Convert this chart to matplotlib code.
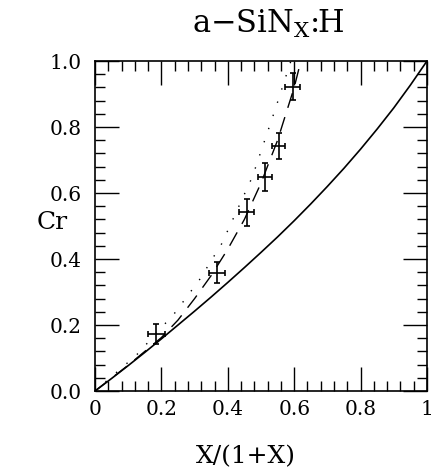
import matplotlib
matplotlib.use("Agg")
import matplotlib.pyplot as plt
from matplotlib.ticker import MultipleLocator

# Data
pts_x = [0.185, 0.367, 0.457, 0.512, 0.553, 0.595]
pts_y = [0.172, 0.358, 0.541, 0.649, 0.742, 0.922]
pts_xerr = [0.025, 0.025, 0.022, 0.022, 0.02, 0.022]
pts_yerr = [0.03, 0.032, 0.041, 0.042, 0.04, 0.041]

solid_x = [0, 0.05, 0.1, 0.15, 0.2, 0.25, 0.3, 0.35, 0.4, 0.45, 0.5,
           0.55, 0.6, 0.65, 0.7, 0.75, 0.8, 0.85, 0.9, 0.95, 1.0]
solid_y = [0, 0.038, 0.077, 0.117, 0.158, 0.200, 0.242, 0.285, 0.329, 0.374, 0.420,
           0.467, 0.516, 0.567, 0.620, 0.675, 0.733, 0.794, 0.858, 0.927, 1.0]

dash_x = [0, 0.1, 0.2, 0.25, 0.3, 0.35, 0.4, 0.45, 0.5, 0.55, 0.6, 0.62]
dash_y = [0, 0.078, 0.162, 0.215, 0.28, 0.35, 0.43, 0.52, 0.63, 0.76, 0.92, 1.0]

dot_x = [0, 0.125, 0.24, 0.314, 0.382, 0.474, 0.544, 0.59]
dot_y = [0, 0.109, 0.236, 0.336, 0.447, 0.649, 0.857, 1.0]

xticks = [0, 0.2, 0.4, 0.6, 0.8, 1.0]
xticklabels = ["0", "0.2", "0.4", "0.6", "0.8", "1"]
yticks = [0.0, 0.2, 0.4, 0.6, 0.8, 1.0]
yticklabels = ["0.0", "0.2", "0.4", "0.6", "0.8", "1.0"]

plt.rcParams['font.family'] = ['DejaVu Serif']
plt.rcParams['mathtext.fontset'] = 'dejavuserif'

fig = plt.figure(figsize=(4.33, 4.69), dpi=100)
ax = fig.add_axes([95/433, 78/469, 332/433, 330/469])

ax.plot(solid_x, solid_y, color='black', lw=1.2)
ax.plot(dash_x, dash_y, color='black', lw=1.0, linestyle=(0, (11, 7)))
ax.plot(dot_x, dot_y, color='black', lw=1.0, linestyle=(0, (1, 9)))
ax.errorbar(pts_x, pts_y, xerr=pts_xerr, yerr=pts_yerr, fmt='none',
            ecolor='black', elinewidth=1.2, capsize=2.5, capthick=1.2)

ax.set_xlim(0, 1)
ax.set_ylim(0, 1)
ax.set_xticks(xticks)
ax.set_xticklabels(xticklabels)
ax.set_yticks(yticks)
ax.set_yticklabels(yticklabels)
ax.xaxis.set_minor_locator(MultipleLocator(0.04))
ax.yaxis.set_minor_locator(MultipleLocator(0.04))
ax.tick_params(which='both', direction='in', top=True, right=True, width=1.0, labelsize=14.5)
ax.tick_params(which='major', length=17)
ax.tick_params(which='minor', length=7)
ax.tick_params(axis='x', pad=6.5)
ax.tick_params(axis='y', pad=9.5)
for s in ax.spines.values():
    s.set_linewidth(1.2)

ax.set_xlabel("X/(1+X)", fontsize=18)
ax.xaxis.set_label_coords(0.455, -0.165)
ax.set_ylabel("Cr", fontsize=18, rotation=0, va='center', ha='center')
ax.yaxis.set_label_coords(-0.13, 0.51)
ax.set_title(r"a$-$SiN$_{\mathrm{X}}$:H", fontsize=22, pad=20, x=0.52)

fig.savefig("out.png", dpi=100)
